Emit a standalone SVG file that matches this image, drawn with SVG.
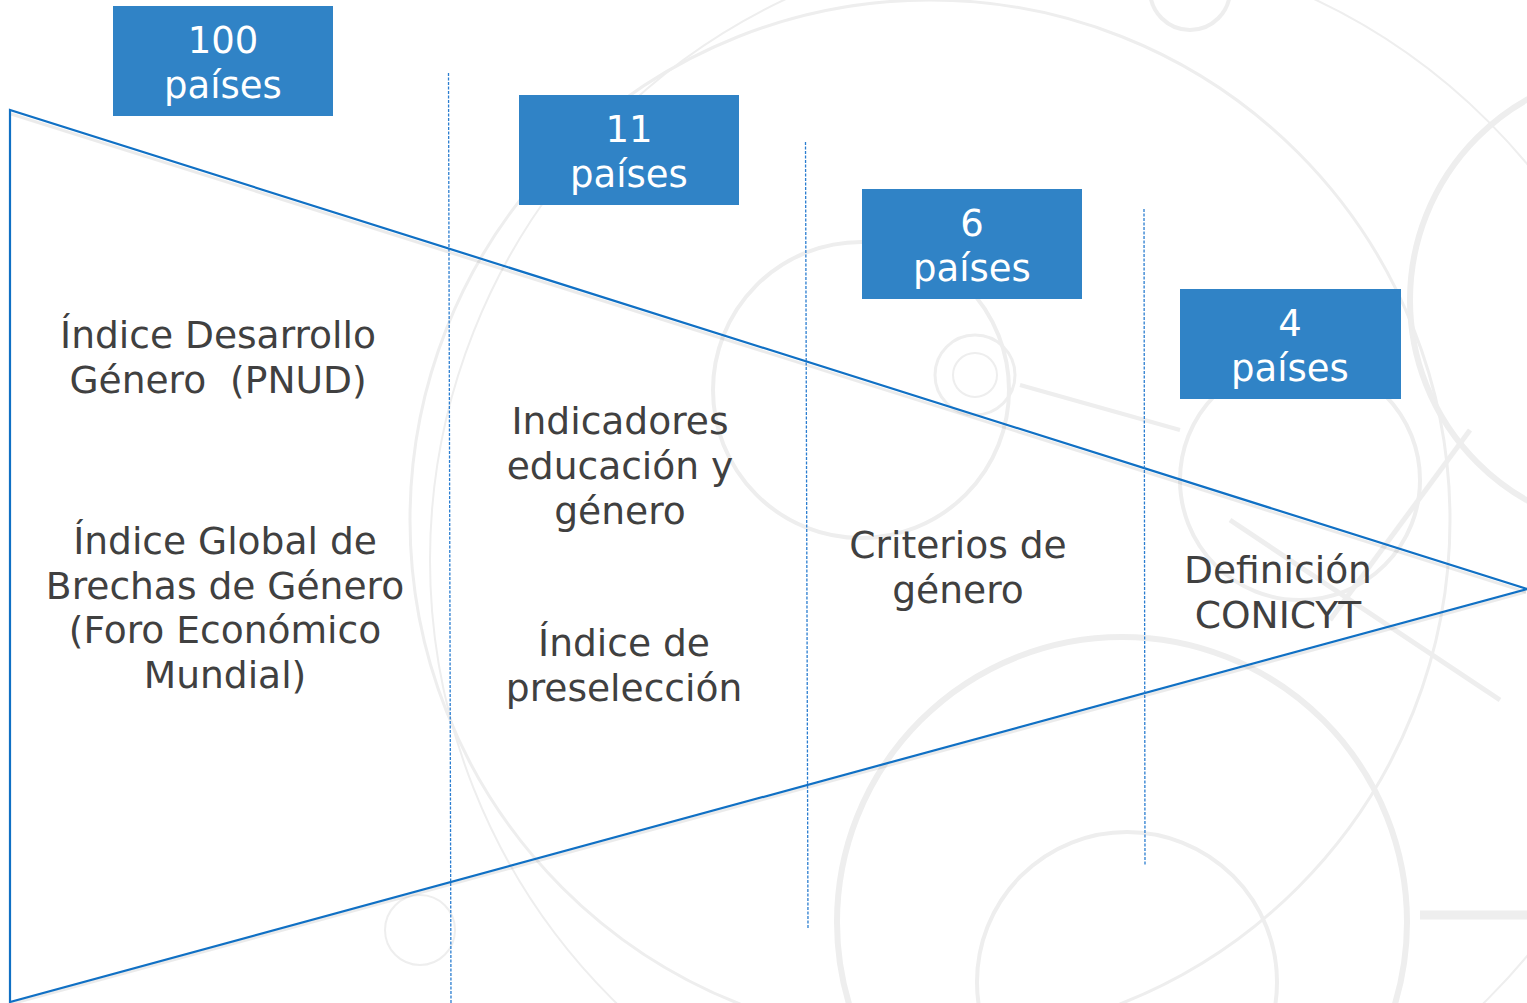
<svg xmlns="http://www.w3.org/2000/svg" width="1527" height="1003" viewBox="0 0 1527 1003">
<style>
.bg{fill:none;stroke:#eeeeee;}
.box{fill:#3083c6;}
.bt{font-family:"DejaVu Sans","Liberation Sans",sans-serif;font-size:37px;fill:#ffffff;text-anchor:middle;}
.lt{font-family:"DejaVu Sans","Liberation Sans",sans-serif;font-size:37.6px;fill:#404040;text-anchor:middle;}
.dash{stroke:#2a7dd0;stroke-width:1.3;stroke-dasharray:3 1.5;fill:none;}
.tri{fill:none;stroke:#1070c4;stroke-width:2.2;stroke-linejoin:miter;}
.sh{fill:none;stroke:#000;stroke-opacity:0.08;stroke-width:3;}
</style>
<rect x="0" y="0" width="1527" height="1003" fill="#ffffff"/>
<g id="watermark">
<circle class="bg" cx="1122" cy="922" r="285" stroke-width="6"/>
<circle class="bg" cx="1127" cy="982" r="150" stroke-width="4"/>
<circle class="bg" cx="861" cy="390" r="148" stroke-width="4"/>
<circle class="bg" cx="975" cy="375" r="40" stroke-width="3"/>
<circle class="bg" cx="975" cy="375" r="22" stroke-width="2"/>
<circle class="bg" cx="1190" cy="-10" r="40" stroke-width="4"/>
<circle class="bg" cx="1300" cy="480" r="120" stroke-width="4"/>
<circle class="bg" cx="1640" cy="300" r="230" stroke-width="6"/>
<circle class="bg" cx="930" cy="520" r="520" stroke-width="3"/>
<circle class="bg" cx="1050" cy="560" r="620" stroke-width="2"/>
<circle class="bg" cx="420" cy="930" r="35" stroke-width="2"/>
<path class="bg" d="M1500 700 L1230 520" stroke-width="5"/>
<path class="bg" d="M1470 430 L1330 620" stroke-width="5"/>
<path class="bg" d="M1020 385 L1180 430" stroke-width="4"/>
<path class="bg" d="M1527 915 L1420 915" stroke-width="9"/>
</g>
<g id="connectors">
<polyline class="sh" points="11,114 1526,592"/>
<polyline class="sh" points="11,1004 1526,592"/>
<polyline class="tri" points="1527,589 10,110 10,1002 1527,589"/>
<line class="dash" x1="448.5" y1="73" x2="451" y2="1003"/>
<line class="dash" x1="805.5" y1="142" x2="808" y2="928"/>
<line class="dash" x1="1144" y1="209" x2="1145" y2="865"/>
</g>
<g id="box100">
<rect class="box" x="113" y="6" width="220" height="110"/>
<text class="bt" x="223" y="53">100</text>
<text class="bt" x="223" y="98">países</text>
</g>
<g id="box11">
<rect class="box" x="519" y="95" width="220" height="110"/>
<text class="bt" x="629" y="142">11</text>
<text class="bt" x="629" y="187">países</text>
</g>
<g id="box6">
<rect class="box" x="862" y="189" width="220" height="110"/>
<text class="bt" x="972" y="236">6</text>
<text class="bt" x="972" y="281">países</text>
</g>
<g id="box4">
<rect class="box" x="1180" y="289" width="221" height="110"/>
<text class="bt" x="1290" y="336">4</text>
<text class="bt" x="1290" y="381">países</text>
</g>
<g id="idg">
<text class="lt" x="218" y="348">Índice Desarrollo</text>
<text class="lt" x="218" y="393">Género&#160; (PNUD)</text>
</g>
<g id="igbg">
<text class="lt" x="225" y="554">Índice Global de</text>
<text class="lt" x="225" y="599">Brechas de Género</text>
<text class="lt" x="225" y="643">(Foro Económico</text>
<text class="lt" x="225" y="688">Mundial)</text>
</g>
<g id="ieg">
<text class="lt" x="620" y="434">Indicadores</text>
<text class="lt" x="620" y="479">educación y</text>
<text class="lt" x="620" y="524">género</text>
</g>
<g id="ip">
<text class="lt" x="624" y="656">Índice de</text>
<text class="lt" x="624" y="701">preselección</text>
</g>
<g id="cg">
<text class="lt" x="958" y="558">Criterios de</text>
<text class="lt" x="958" y="603">género</text>
</g>
<g id="dc">
<text class="lt" x="1278" y="583">Definición</text>
<text class="lt" x="1278" y="628">CONICYT</text>
</g>
</svg>
